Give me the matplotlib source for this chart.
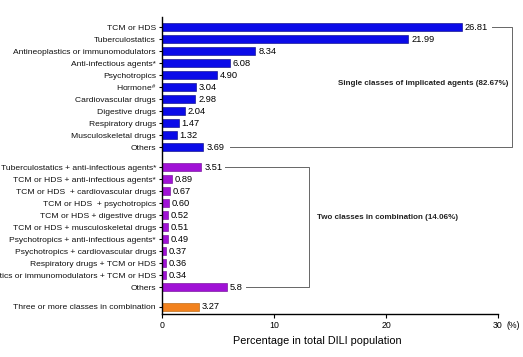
import matplotlib
matplotlib.use("Agg")
import matplotlib.pyplot as plt

plt.rcParams["font.family"] = ["Liberation Sans", "DejaVu Sans"]
plt.rcParams["mathtext.fontset"] = "custom"
plt.rcParams["mathtext.rm"] = "Liberation Sans"
plt.rcParams["mathtext.it"] = "Liberation Sans"

# single classes
single_labels = [
    "TCM or HDS", "Tuberculostatics", "Antineoplastics or immunomodulators",
    "Anti-infectious agents*", "Psychotropics", "Hormone$^{\\#}$",
    "Cardiovascular drugs", "Digestive drugs", "Respiratory drugs",
    "Musculoskeletal drugs", "Others",
]
single_values = [26.81, 21.99, 8.34, 6.08, 4.90, 3.04, 2.98, 2.04, 1.47, 1.32, 3.69]
single_text = ["26.81", "21.99", "8.34", "6.08", "4.90", "3.04", "2.98", "2.04", "1.47", "1.32", "3.69"]

# two classes in combination
two_labels = [
    "Tuberculostatics + anti-infectious agents*",
    "TCM or HDS + anti-infectious agents*",
    "TCM or HDS  + cardiovascular drugs",
    "TCM or HDS  + psychotropics",
    "TCM or HDS + digestive drugs",
    "TCM or HDS + musculoskeletal drugs",
    "Psychotropics + anti-infectious agents*",
    "Psychotropics + cardiovascular drugs",
    "Respiratory drugs + TCM or HDS",
    "Antineoplastics or immunomodulators + TCM or HDS",
    "Others",
]
two_values = [3.51, 0.89, 0.67, 0.60, 0.52, 0.51, 0.49, 0.37, 0.36, 0.34, 5.8]
two_text = ["3.51", "0.89", "0.67", "0.60", "0.52", "0.51", "0.49", "0.37", "0.36", "0.34", "5.8"]

# three or more
three_label = "Three or more classes in combination"
three_value = 3.27
three_text = "3.27"

single_pos = list(range(11))
two_pos = [11.67 + j for j in range(11)]
three_pos = 23.33

BLUE = "#0b0be8"
PURPLE = "#a012d6"
ORANGE = "#f2821e"

fig = plt.figure(figsize=(5.23, 3.57), dpi=100)
ax = fig.add_axes([0.31, 0.1204, 0.642, 0.8316])

h = 0.66
fs = 6.1
ax.barh(single_pos, single_values, height=h, color=BLUE, edgecolor="#00007a", linewidth=0.4)
ax.barh(two_pos, two_values, height=h, color=PURPLE, edgecolor="#6a0090", linewidth=0.4)
ax.barh([three_pos], [three_value], height=h, color=ORANGE, edgecolor="#b05a00", linewidth=0.4)

for y, v, t in zip(single_pos, single_values, single_text):
    ax.text(v + 0.25, y, t, va="center", ha="left", fontsize=6.7)
for y, v, t in zip(two_pos, two_values, two_text):
    ax.text(v + 0.25, y, t, va="center", ha="left", fontsize=6.7)
ax.text(three_value + 0.25, three_pos, three_text, va="center", ha="left", fontsize=6.7)

ax.set_yticks(single_pos + two_pos + [three_pos])
ax.set_yticklabels(single_labels + two_labels + [three_label], fontsize=fs, color="#111111")
ax.set_ylim(23.92, -0.83)
ax.set_xlim(0, 30)
ax.set_xticks([0, 10, 20, 30])
ax.tick_params(axis="x", labelsize=6.3, length=3, width=0.8, pad=2)
ax.tick_params(axis="y", length=2.5, width=0.8, pad=2)
for s in ["top", "right"]:
    ax.spines[s].set_visible(False)
ax.spines["left"].set_linewidth(1.0)
ax.spines["bottom"].set_linewidth(1.0)
ax.set_xlabel("Percentage in total DILI population", fontsize=7.8)
ax.xaxis.set_label_coords(0.461, -0.075)
ax.annotate("(%)", xy=(30, 0), xycoords=("data", "axes fraction"),
            xytext=(6, -5), textcoords="offset points", va="top", ha="left",
            fontsize=6.3, annotation_clip=False)

# brackets
gray = "#666666"
bx1 = 31.25
ax.plot([single_values[0] + 2.7, bx1, bx1, single_values[-1] + 2.4],
        [single_pos[0], single_pos[0], single_pos[-1], single_pos[-1]],
        color=gray, lw=0.7, clip_on=False)
ax.text(30.9, 4.7, "Single classes of implicated agents (82.67%)", ha="right",
        va="center", fontsize=5.8, fontweight="bold", color="#222222")

bx2 = 13.1
ax.plot([two_values[0] + 2.1, bx2, bx2, two_values[-1] + 1.7],
        [two_pos[0], two_pos[0], two_pos[-1], two_pos[-1]],
        color=gray, lw=0.7, clip_on=False)
ax.text(13.8, 15.9, "Two classes in combination (14.06%)", ha="left",
        va="center", fontsize=5.8, fontweight="bold", color="#222222")

fig.savefig("out.png", dpi=100)
